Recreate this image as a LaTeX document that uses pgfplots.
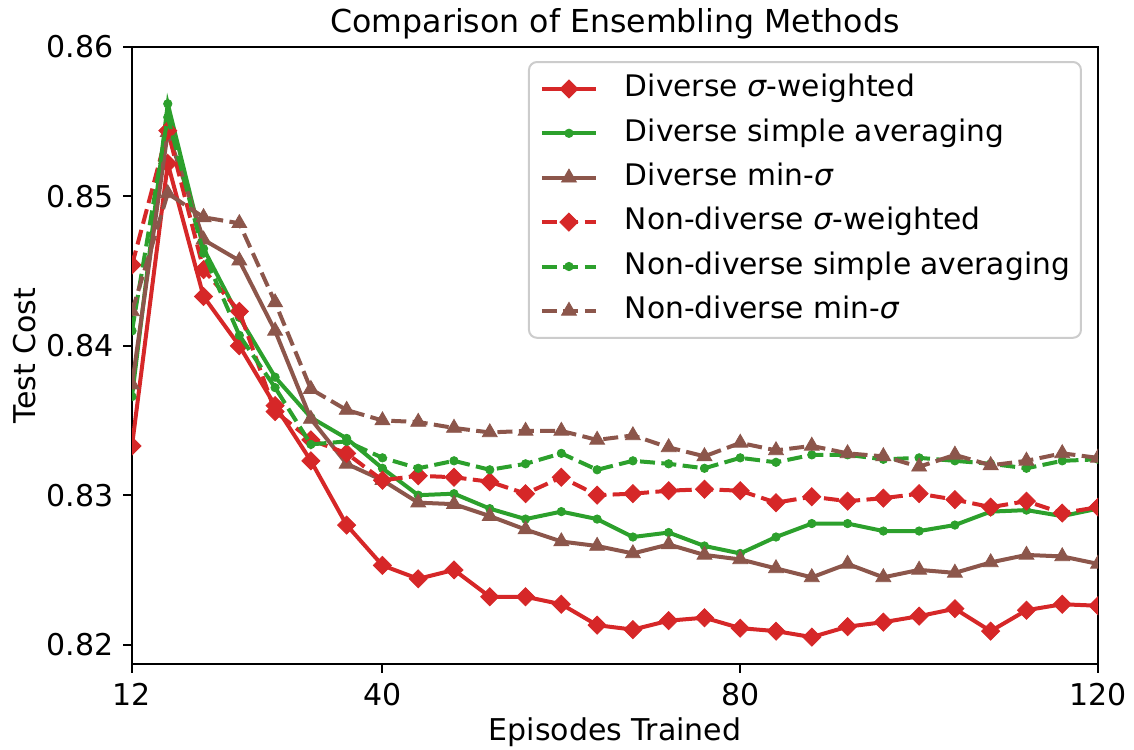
\documentclass[border=0pt]{standalone}
\usepackage{fontspec}
\setmainfont{DejaVu Sans}
\usepackage{pgfplots}
\usepackage{pgfplotstable}
\pgfplotsset{compat=1.18}
\definecolor{tabred}{HTML}{D62728}
\definecolor{tabgreen}{HTML}{2CA02C}
\definecolor{tabbrown}{HTML}{8C564B}

\pgfplotstableread{
x   dsw    dsa    dms    nsw    nsa    nms
12  0.8333 0.8366 0.8374 0.8454 0.8410 0.8423
16  0.8522 0.8562 0.8543 0.8544 0.8553 0.8502
20  0.8433 0.8465 0.8471 0.8451 0.8462 0.8486
24  0.8400 0.8419 0.8457 0.8423 0.8407 0.8482
28  0.8360 0.8379 0.8410 0.8356 0.8372 0.8429
32  0.8323 0.8352 0.8351 0.8337 0.8334 0.8371
36  0.8280 0.8338 0.8321 0.8328 0.8336 0.8357
40  0.8253 0.8318 0.8310 0.8310 0.8325 0.8350
44  0.8244 0.8300 0.8295 0.8313 0.8318 0.8349
48  0.8250 0.8301 0.8294 0.8312 0.8323 0.8345
52  0.8232 0.8291 0.8286 0.8309 0.8317 0.8342
56  0.8232 0.8284 0.8277 0.8301 0.8321 0.8343
60  0.8227 0.8289 0.8269 0.8312 0.8328 0.8343
64  0.8213 0.8284 0.8266 0.8300 0.8317 0.8337
68  0.8210 0.8272 0.8261 0.8301 0.8323 0.8340
72  0.8216 0.8275 0.8267 0.8303 0.8321 0.8332
76  0.8218 0.8266 0.8260 0.8304 0.8318 0.8326
80  0.8211 0.8261 0.8257 0.8303 0.8325 0.8335
84  0.8209 0.8272 0.8251 0.8295 0.8322 0.8330
88  0.8205 0.8281 0.8245 0.8299 0.8327 0.8333
92  0.8212 0.8281 0.8254 0.8296 0.8327 0.8328
96  0.8215 0.8276 0.8245 0.8298 0.8324 0.8326
100 0.8219 0.8276 0.8250 0.8301 0.8325 0.8319
104 0.8224 0.8280 0.8248 0.8297 0.8323 0.8327
108 0.8209 0.8289 0.8255 0.8292 0.8321 0.8320
112 0.8223 0.8290 0.8260 0.8296 0.8318 0.8323
116 0.8227 0.8286 0.8259 0.8288 0.8323 0.8328
120 0.8226 0.8291 0.8254 0.8292 0.8324 0.8325
}\datatable

\begin{document}
\begin{tikzpicture}[font=\fontsize{15}{18}\selectfont]
\useasboundingbox (0,0) rectangle (567pt,374.5pt);
\begin{axis}[
  at={(66pt,42.5pt)}, anchor=south west,
  width=483pt, height=308.5pt, scale only axis,
  xmin=12, xmax=120, ymin=0.8187, ymax=0.86,
  xtick={12,40,80,120},
  ytick={0.82,0.83,0.84,0.85,0.86},
  scaled y ticks=false,
  xtick pos=left, ytick pos=left,
  tick align=outside, major tick length=4.4pt,
  every tick/.style={black, line width=1pt},
  axis line style={line width=1pt},
  /pgf/number format/assume math mode=true,
  yticklabel style={/pgf/number format/.cd, fixed, fixed zerofill, precision=2, /tikz/.cd, anchor=east, inner sep=0pt, xshift=-4.6pt},
  xticklabel style={anchor=north, inner sep=0pt, yshift=-4.9pt},
  every axis title shift=0pt,
  title={Comparison of Ensembling Methods},
  title style={font=\fontsize{15.8}{18}\selectfont, at={(axis description cs:0.5,1.0227)}, anchor=base, inner sep=0pt},
  xlabel={Episodes Trained},
  xlabel style={at={(axis description cs:0.5,-0.1232)}, anchor=base, inner sep=0pt},
  ylabel={Test Cost},
  ylabel style={at={(axis description cs:-0.1004,0.5)}, anchor=base, inner sep=0pt},
  clip marker paths=true,
  legend cell align=left,
  legend image code/.code={\draw[mark repeat=2,mark phase=2] plot coordinates {(0pt,0pt) (13.5pt,0pt) (27pt,0pt)};},
  legend style={at={(0.9834,0.9773)}, anchor=north east, draw=black!20, line width=1pt,
    rounded corners=4pt, fill=white, inner xsep=5.5pt, inner ysep=6pt, row sep=7.3pt, column sep=13.5pt,
    font=\fontsize{14.85}{18}\selectfont,
    nodes={inner sep=0pt, text height=11.3pt, text depth=3.6pt}},
  dsw/.style={color=tabred, line width=2pt, mark=square*, mark size=3.2pt, mark options={solid, sharp corners, rotate=45, line width=0.4pt, fill=tabred}},
  dsa/.style={color=tabgreen, line width=2pt, mark=*, mark size=2.1pt, mark options={solid, sharp corners, line width=0.4pt, fill=tabgreen}},
  dms/.style={color=tabbrown, line width=2pt, mark=triangle*, mark size=4.3pt, mark options={solid, sharp corners, line width=0.4pt, fill=tabbrown}},
  dashpat/.style={dash pattern=on 7.5pt off 3.2pt},
]
\addplot[dsw] table[x=x, y=dsw] {\datatable};
\addlegendentry{Diverse \textit{σ}-weighted}
\addplot[dsa] table[x=x, y=dsa] {\datatable};
\addlegendentry{Diverse simple averaging}
\addplot[dms] table[x=x, y=dms] {\datatable};
\addlegendentry{Diverse min-\textit{σ}}
\addplot[dsw, dashpat] table[x=x, y=nsw] {\datatable};
\addlegendentry{Non-diverse \textit{σ}-weighted}
\addplot[dsa, dashpat] table[x=x, y=nsa] {\datatable};
\addlegendentry{Non-diverse simple averaging}
\addplot[dms, dashpat] table[x=x, y=nms] {\datatable};
\addlegendentry{Non-diverse min-\textit{σ}}
\end{axis}
\end{tikzpicture}
\end{document}
